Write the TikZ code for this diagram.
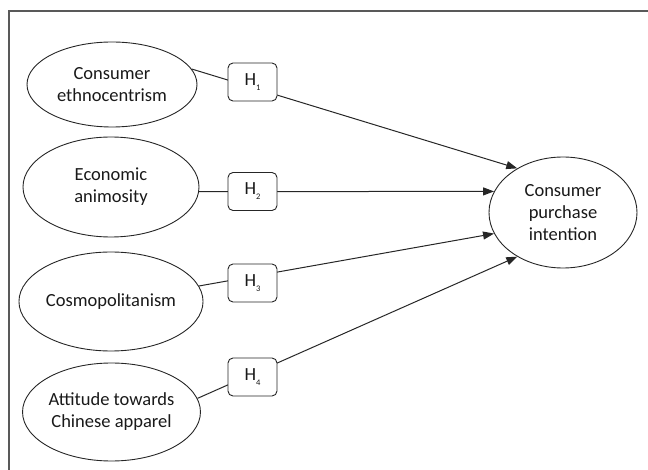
\documentclass[tikz,border=0pt]{standalone}
\usepackage{fontspec}
\setmainfont{Carlito}
\usetikzlibrary{arrows.meta,shapes.geometric}
\begin{document}
\begin{tikzpicture}[x=1pt,y=-1pt,
  framec/.style={draw=black!65,line width=1.3pt},
  latent/.style={draw=black!85,ellipse,inner sep=0pt,line width=0.9pt,align=center,
    font=\fontsize{18.5}{22}\selectfont,text=black!90},
  hyp/.style={draw=black!85,fill=white,rounded corners=5pt,line width=0.9pt,
    minimum width=49pt,minimum height=38pt,inner sep=0pt,
    font=\fontsize{18.5}{20}\selectfont,text=black!90},
  path/.style={draw=black!85,line width=1pt,-{Triangle[length=11pt,width=8pt]}}]
\useasboundingbox (0,0) rectangle (648,470);
\draw[framec] (9,470) -- (9,11) -- (648,11);

\node[latent,minimum width=170pt,minimum height=85pt] (e1) at (112,84.5) {Consumer\\ethnocentrism};
\node[latent,minimum width=176pt,minimum height=100pt] (e2) at (111,187) {Economic\\animosity};
\node[latent,minimum width=176pt,minimum height=99pt] (e3) at (111,301.5) {Cosmopolitanism};
\node[latent,minimum width=175pt,minimum height=98pt] (e4) at (111.5,412) {Attitude towards\\Chinese apparel};
\node[latent,minimum width=148pt,minimum height=111pt] (t) at (563,212.5) {Consumer\\purchase\\intention};

\draw[path] (e1.11.6) -- (t.136.6);
\draw[path] (e2.-3.3) -- (t.163.7);
\draw[path] (e3.10.2) -- (t.197.1);
\draw[path] (e4.9.3) -- (t.224.7);

\node[hyp] (h1) at (252.5,82) {H\raisebox{-5pt}{\fontsize{8.5}{8.5}\selectfont 1}};
\node[hyp] (h2) at (252.5,191.5) {H\raisebox{-5pt}{\fontsize{8.5}{8.5}\selectfont 2}};
\node[hyp] (h3) at (252.5,283) {H\raisebox{-5pt}{\fontsize{8.5}{8.5}\selectfont 3}};
\node[hyp] (h4) at (252.5,377) {H\raisebox{-5pt}{\fontsize{8.5}{8.5}\selectfont 4}};
\end{tikzpicture}
\end{document}
